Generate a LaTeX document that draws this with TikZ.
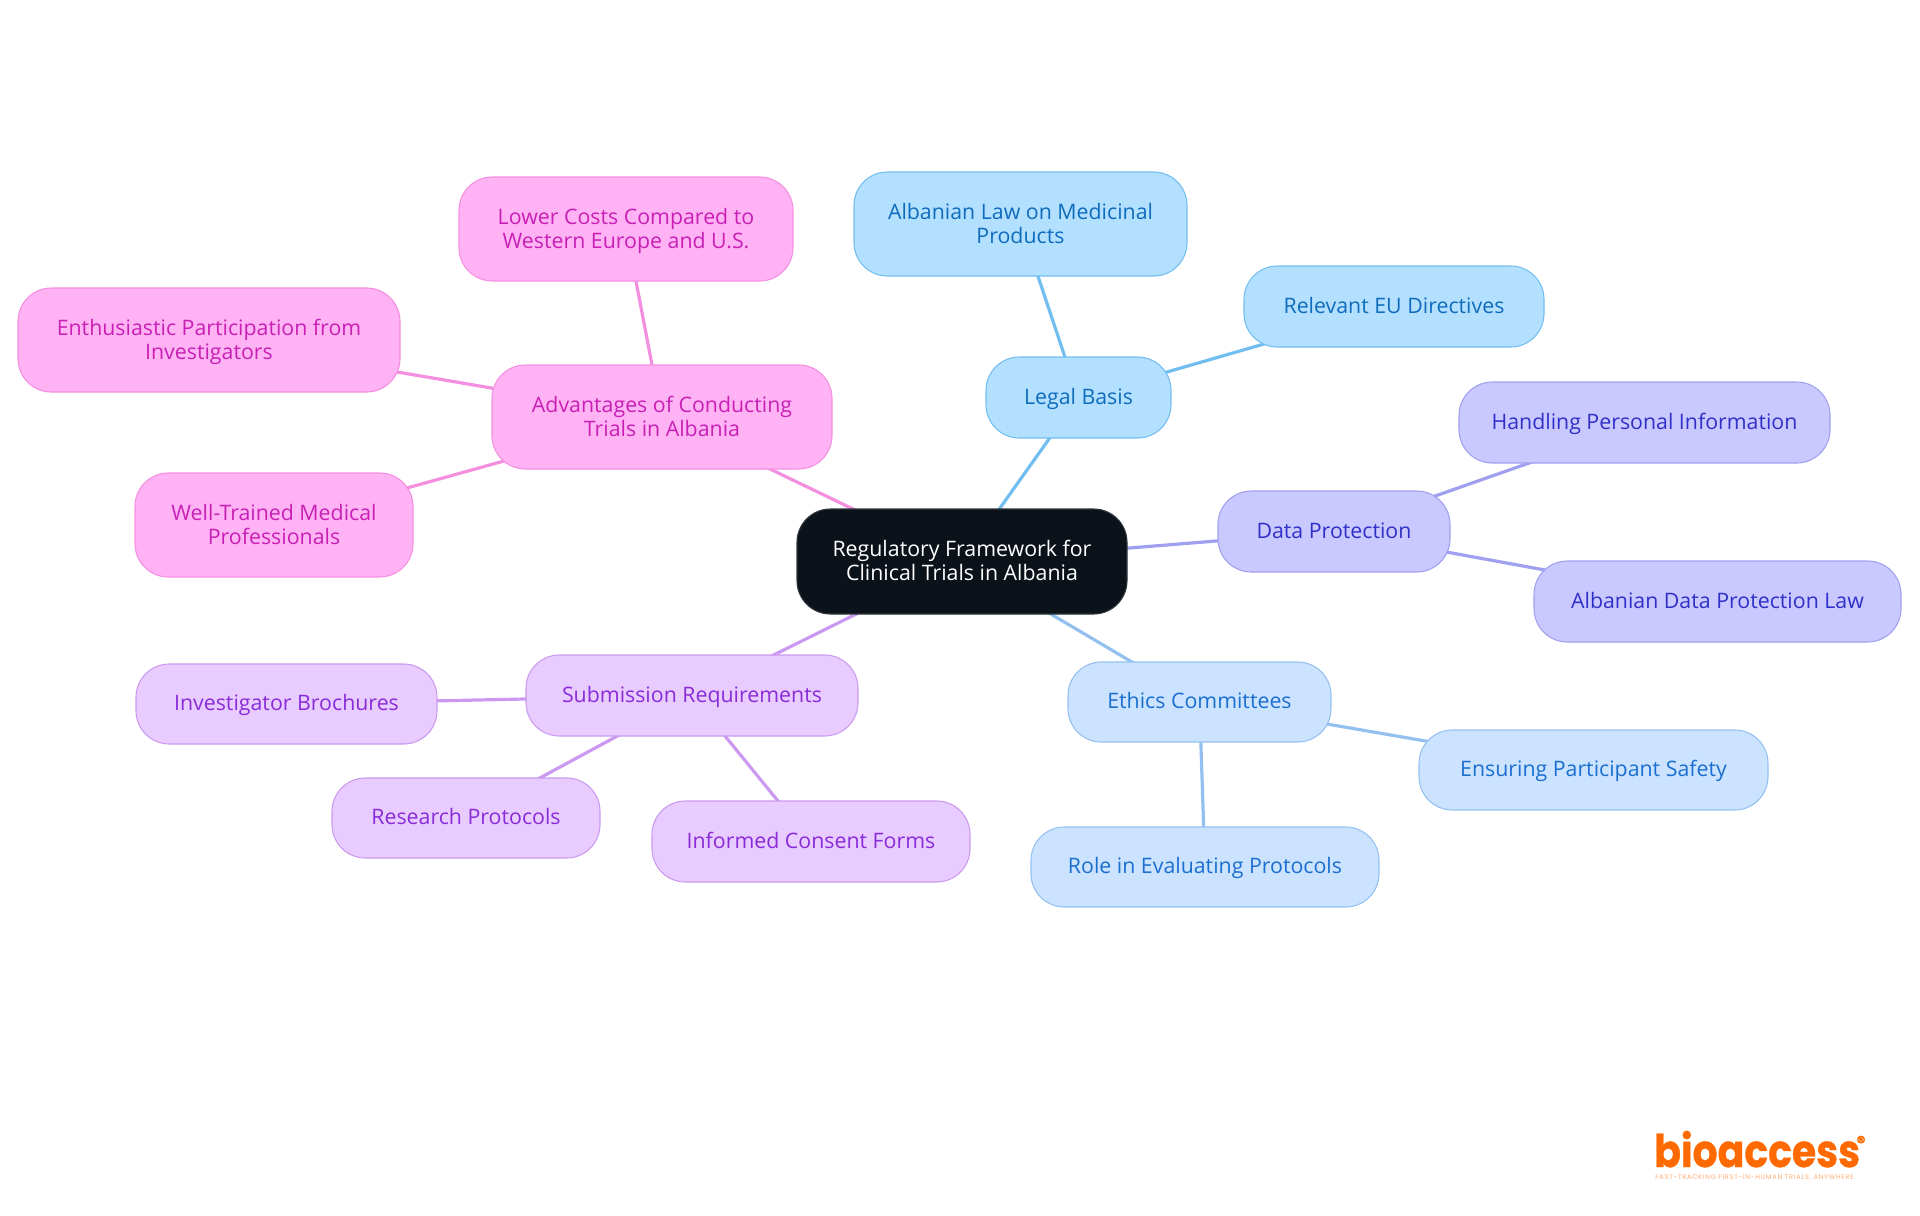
\documentclass[tikz,border=0pt]{standalone}
\usepackage{fontspec}
\setmainfont{Open Sans}
\newfontfamily\logofont[BoldFeatures={FakeBold=0.8}]{Poppins}
\newfontfamily\tagfont[LetterSpace=11]{Poppins}
\usetikzlibrary{backgrounds}

\definecolor{rootfill}{HTML}{0C121A}
\definecolor{legalfill}{HTML}{B3E0FF}
\definecolor{legalline}{HTML}{73BEF0}
\definecolor{legaltext}{HTML}{0F6CBD}
\definecolor{datafill}{HTML}{C9C9FF}
\definecolor{dataline}{HTML}{A0A0F0}
\definecolor{datatext}{HTML}{3030C8}
\definecolor{ethicsfill}{HTML}{CCE3FF}
\definecolor{ethicsline}{HTML}{94C0F0}
\definecolor{ethicstext}{HTML}{1A6FD0}
\definecolor{subfill}{HTML}{E8CCFF}
\definecolor{subline}{HTML}{CC99F0}
\definecolor{subtext}{HTML}{8A2BD8}
\definecolor{advfill}{HTML}{FFB3F5}
\definecolor{advline}{HTML}{F48FE0}
\definecolor{advtext}{HTML}{C81FB5}
\definecolor{logoorange}{HTML}{FF6A00}

\newcommand{\boxstrut}{\vrule height 13.9pt depth 4.1pt width 0pt}
\newcommand{\dropstrut}{\vrule height 15pt depth 0pt width 0pt}

\tikzset{
  box/.style={rectangle, rounded corners=25pt, line width=0.8pt, align=center,
    font=\fontsize{16}{18}\selectfont, inner sep=0pt,
    execute at begin node=\boxstrut, execute at end node=\boxstrut},
  root/.style={box, fill=rootfill, draw=rootfill!85!white, text=white},
  legal/.style={box, fill=legalfill, draw=legalline, text=legaltext},
  data/.style={box, fill=datafill, draw=dataline, text=datatext},
  ethics/.style={box, fill=ethicsfill, draw=ethicsline, text=ethicstext},
  subm/.style={box, fill=subfill, draw=subline, text=subtext},
  adv/.style={box, fill=advfill, draw=advline, text=advtext},
  link/.style={line width=2.4pt},
}

\begin{document}
\begin{tikzpicture}[x=0.75pt, y=-0.75pt]
  \useasboundingbox (0, 0) rectangle (1920, 1215);
  % name / style / left / right / top / bottom / text
  \foreach \n/\s/\l/\r/\t/\b/\txt in {
    root/root/797/1127/509/614/{\dropstrut Regulatory Framework for\\Clinical Trials in Albania},
    legalbasis/legal/986/1171/357/438/{Legal Basis},
    medlaw/legal/854/1187/172/276/{\dropstrut Albanian Law on Medicinal\\Products},
    eudir/legal/1244/1544/266/347/{Relevant EU Directives},
    dataprot/data/1218/1450/491/572/{Data Protection},
    personal/data/1459/1830/382/463/{Handling Personal Information},
    datalaw/data/1534/1901/561/642/{Albanian Data Protection Law},
    ethicscom/ethics/1068/1331/662/742/{Ethics Committees},
    safety/ethics/1419/1768/730/810/{Ensuring Participant Safety},
    evalrole/ethics/1031/1379/827/907/{Role in Evaluating Protocols},
    submreq/subm/526/858/655/736/{Submission Requirements},
    brochures/subm/136/437/664/744/{Investigator Brochures},
    protocols/subm/332/600/778/858/{Research Protocols},
    consent/subm/652/970/801/882/{Informed Consent Forms},
    advantages/adv/492/832/365/469/{\dropstrut Advantages of Conducting\\Trials in Albania},
    costs/adv/459/793/177/281/{\dropstrut Lower Costs Compared to\\Western Europe and U.S.},
    investig/adv/18/400/288/392/{\dropstrut Enthusiastic Participation from\\Investigators},
    medpros/adv/135/413/473/577/{\dropstrut Well-Trained Medical\\Professionals}%
  }{
    \pgfmathsetmacro{\w}{(\r - \l) * 0.75}
    \pgfmathsetmacro{\h}{(\b - \t) * 0.75}
    \node[\s, minimum width=\w pt, minimum height=\h pt] (\n)
      at ({(\l + \r) / 2}, {(\t + \b) / 2}) {\txt};
  }
  % links run from centre to centre, under the boxes
  \begin{pgfonlayer}{background}
    \foreach \a/\b/\c in {
      root/legalbasis/legalline, legalbasis/medlaw/legalline, legalbasis/eudir/legalline,
      root/dataprot/dataline, dataprot/personal/dataline, dataprot/datalaw/dataline,
      root/ethicscom/ethicsline, ethicscom/safety/ethicsline, ethicscom/evalrole/ethicsline,
      root/submreq/subline, submreq/brochures/subline, submreq/protocols/subline, submreq/consent/subline,
      root/advantages/advline, advantages/costs/advline, advantages/investig/advline, advantages/medpros/advline}{
      \draw[link, \c] (\a.center) -- (\b.center);
    }
  \end{pgfonlayer}
  % logo
  \node[text=logoorange, font=\logofont\bfseries\fontsize{29.5}{30}\selectfont, anchor=base west, inner sep=0pt] (logo) at (1654, 1167) {\scalebox{1}[1.15]{bioaccess}};
  \node[text=logoorange, font=\logofont\bfseries\fontsize{13}{13}\selectfont, inner sep=0pt] (regmark) at (1861, 1142) {®};
  \node[text=logoorange!55, font=\tagfont\fontsize{5}{5}\selectfont, anchor=base west, inner sep=0pt] (tagline) at (1655, 1179.5) {FAST-TRACKING FIRST-IN-HUMAN TRIALS, ANYWHERE};
\end{tikzpicture}
\end{document}
